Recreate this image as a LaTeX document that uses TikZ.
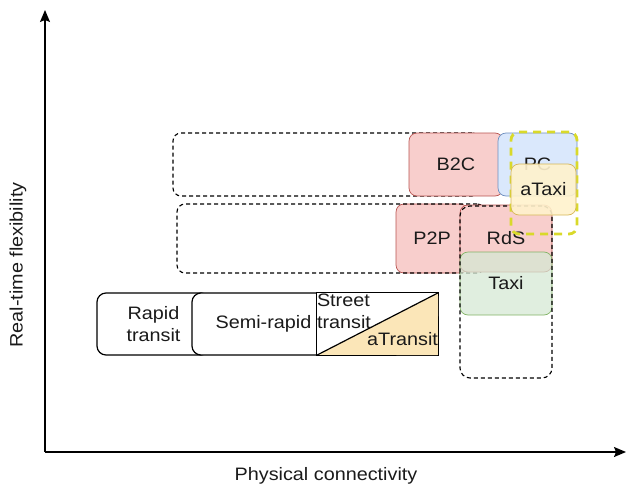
\documentclass[tikz,border=0pt]{standalone}
\usepackage{fontspec}
\setmainfont{Liberation Sans}[FakeStretch=1.1]
\usetikzlibrary{arrows.meta}
\definecolor{redf}{HTML}{F8CECC}
\definecolor{redd}{HTML}{B85450}
\definecolor{bluef}{HTML}{DAE8FC}
\definecolor{blued}{HTML}{6C8EBF}
\definecolor{yelf}{HTML}{FFF2CC}
\definecolor{yeld}{HTML}{D6B656}
\definecolor{grnf}{HTML}{D5E8D4}
\definecolor{grnd}{HTML}{82B366}
\definecolor{ydash}{HTML}{D9D92A}
\definecolor{atr}{HTML}{FBE6B8}
\definecolor{txt}{HTML}{1A1A1A}
\begin{document}
\begin{tikzpicture}[x=1pt,y=-1pt,
  font=\fontsize{18}{22}\selectfont,
  box/.style={rectangle, rounded corners=8pt, inner sep=0pt, text=txt, align=center},
  dbox/.style={box, draw=black, dash pattern=on 4pt off 3pt, line width=1.1pt},
  redbox/.style={box, fill=redf, draw=redd, line width=0.7pt},
  bluebox/.style={box, fill=bluef, draw=blued, line width=0.7pt},
  yelbox/.style={box, fill=yelf, draw=yeld, line width=0.7pt, fill opacity=0.9, text opacity=1},
  grnbox/.style={box, fill=grnf, draw=grnd, line width=0.7pt, fill opacity=0.75, text opacity=1},
  ydbox/.style={box, draw=ydash, line width=2.8pt, dash pattern=on 8pt off 6pt},
  modebox/.style={box, rounded corners=9pt, fill=white, draw=black, line width=1.2pt},
  axis/.style={line width=1.3pt, -{Stealth[length=12pt,width=10pt,inset=2pt]}},
  lbl/.style={text=txt, inner sep=0pt}
]
\useasboundingbox (0,0) rectangle (634,490);

% axes
\coordinate (O) at (45,452);
\coordinate (Ytip) at (45,10);
\coordinate (Xtip) at (626,452);
\draw[axis] (O) -- (Ytip);
\draw[axis] (O) -- (Xtip);
\node[lbl, rotate=90] (ylab) at (18,265) {Real-time flexibility};
\node[lbl] (xlab) at (326,476) {Physical connectivity};

% upper row
\node[dbox, minimum width=307pt, minimum height=63pt] (g1) at (326.5,164.5) {};
\node[redbox, minimum width=94pt, minimum height=63pt] (b2c) at (456,164.5) {B2C};
\node[bluebox, minimum width=79pt, minimum height=63pt] (pc) at (537.5,164.5) {PC};

% middle row
\node[redbox, minimum width=72pt, minimum height=69pt] (p2p) at (432,238.5) {P2P};
\node[dbox, minimum width=308pt, minimum height=69pt] (g2) at (331,238.5) {};
\node[redbox, minimum width=92pt, minimum height=67pt] (rds) at (506,238.5) {RdS};
\node[grnbox, minimum width=92pt, minimum height=63pt] (taxi) at (506,283.5) {Taxi};
\node[dbox, rounded corners=10pt, minimum width=92pt, minimum height=172pt] (g3) at (506,292) {};

\node[ydbox, minimum width=66pt, minimum height=102pt] (g4) at (544,183) {};
\node[yelbox, minimum width=65pt, minimum height=51pt] (ataxi) at (543.5,189.5) {aTaxi};

% lower row
\node[modebox, minimum width=113pt, minimum height=62pt] (rapid) at (153.5,324) {Rapid\\transit};
\node[modebox, minimum width=143pt, minimum height=62pt] (semi) at (263.5,324) {Semi-rapid};
\node[rectangle, fill=white, inner sep=0pt, minimum width=121pt, minimum height=62pt] (street) at (377.5,324) {};
\fill[atr] (street.south west) -- (street.north east) -- (street.south east) -- cycle;
\draw[line width=1.2pt] (street.south east) -- (street.south west) -- (street.north west) -- (street.north east) -- cycle;
\fill[atr] ([xshift=0.6pt,yshift=0.6pt]street.south west) -- ([xshift=-0.6pt]street.south east) -- ([yshift=-3pt]street.north east) -- cycle;
\draw[line width=1.2pt] (street.south west) -- (street.north east);
\node[lbl, anchor=north west, align=left] (sttxt) at ([yshift=-1pt]street.north west) {Street\\transit};
\node[lbl, anchor=base east] (atxt) at ([yshift=10pt]street.south east) {aTransit};
\end{tikzpicture}
\end{document}
